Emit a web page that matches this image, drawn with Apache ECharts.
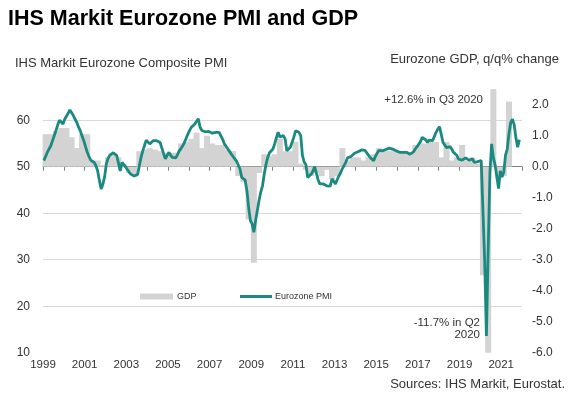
<!DOCTYPE html>
<html><head><meta charset="utf-8">
<script src="https://cdn.jsdelivr.net/npm/echarts@6/dist/echarts.min.js"></script>
<style>html,body{margin:0;padding:0;background:#fff}#c{width:573px;height:405px}</style>
</head><body><div id="c"></div>
<script>
// Eurozone Composite PMI, monthly (Jan..Dec)
const pmi1999 = [51.3, 52.2, 53.1, 53.8, 54.5, 55.6, 56.7, 57.8, 59.0, 60.0, 59.6, 59.2];
const pmi2000 = [60.2, 60.6, 61.5, 62.2, 61.8, 61.0, 60.2, 59.5, 58.5, 57.7, 56.6, 55.6];
const pmi2001 = [54.3, 53.1, 52.2, 51.4, 51.2, 50.9, 50.2, 49.1, 47.0, 45.2, 46.2, 47.8];
const pmi2002 = [50.6, 51.8, 52.5, 52.9, 53.0, 52.9, 52.4, 52.0, 49.1, 50.9, 50.5, 50.0];
const pmi2003 = [49.6, 48.9, 48.4, 48.1, 48.0, 48.1, 48.3, 50.2, 52.0, 53.4, 54.6, 55.7];
const pmi2004 = [55.3, 54.9, 55.2, 55.6, 55.4, 55.6, 55.6, 55.2, 54.0, 52.8, 51.7, 52.4];
const pmi2005 = [53.1, 52.5, 52.0, 51.7, 51.9, 52.6, 53.4, 53.9, 54.5, 55.2, 56.1, 57.0];
const pmi2006 = [57.8, 58.5, 58.9, 59.2, 59.8, 60.3, 58.5, 57.8, 57.4, 57.5, 57.6, 57.6];
const pmi2007 = [57.4, 57.2, 57.1, 57.4, 57.6, 57.4, 57.0, 55.9, 54.9, 54.4, 53.8, 53.4];
const pmi2008 = [52.7, 52.2, 51.7, 51.2, 50.9, 49.5, 47.7, 47.4, 47.1, 44.8, 41.2, 38.4];
const pmi2009 = [37.7, 35.9, 38.4, 40.6, 42.8, 44.6, 45.9, 48.5, 50.5, 52.0, 53.0, 53.4];
const pmi2010 = [53.8, 54.9, 56.3, 57.4, 56.4, 56.0, 56.7, 56.0, 53.4, 53.8, 54.2, 55.2];
const pmi2011 = [56.3, 57.7, 57.6, 57.4, 56.7, 52.4, 51.0, 50.4, 47.7, 47.9, 48.4, 49.0];
const pmi2012 = [50.0, 48.6, 47.2, 46.3, 46.1, 46.3, 46.2, 45.9, 45.5, 45.8, 47.4, 47.0];
const pmi2013 = [46.3, 47.2, 48.0, 48.7, 49.6, 50.3, 51.0, 51.9, 52.0, 52.2, 52.5, 52.9];
const pmi2014 = [53.0, 53.2, 53.4, 53.6, 53.8, 53.5, 53.1, 52.5, 52.0, 51.7, 51.3, 52.2];
const pmi2015 = [52.9, 53.5, 53.8, 53.4, 53.4, 53.7, 53.8, 54.0, 53.7, 53.8, 54.1, 53.4];
const pmi2016 = [53.4, 53.1, 53.0, 53.1, 53.2, 53.1, 52.9, 52.7, 52.4, 53.2, 53.8, 54.3];
const pmi2017 = [54.6, 55.4, 56.3, 56.6, 55.8, 55.2, 55.7, 55.9, 55.6, 56.0, 57.4, 58.1];
const pmi2018 = [58.6, 56.9, 55.2, 54.9, 54.1, 54.5, 54.3, 53.8, 53.1, 53.0, 52.4, 51.6];
const pmi2019 = [51.2, 51.4, 51.6, 51.9, 51.8, 51.4, 51.6, 51.7, 50.9, 50.8, 51.1, 51.0];
const pmi2020 = [51.3, 51.2, 29.7, 13.6, 31.9, 48.5, 54.9, 51.9, 50.4, 50.0, 45.3, 49.1];
const pmi2021 = [47.8, 48.8, 52.5, 53.8, 57.1, 59.5, 60.2, 59.0, 56.2, 54.2, 55.8];

// Eurozone GDP q/q % change, quarterly (Q1..Q4)
const gdp1999 = [1.05, 1.05, 1.15, 1.25];
const gdp2000 = [1.25, 0.95, 0.6, 1.05];
const gdp2001 = [1.05, 0.2, 0.2, 0.05];
const gdp2002 = [0.3, 0.4, 0.3, 0.1];
const gdp2003 = [-0.2, -0.3, 0.5, 0.55];
const gdp2004 = [0.6, 0.55, 0.5, 0.45];
const gdp2005 = [0.45, 0.45, 0.75, 0.8];
const gdp2006 = [0.9, 1.1, 0.6, 1.0];
const gdp2007 = [0.75, 0.7, 0.7, 0.55];
const gdp2008 = [0.5, -0.3, -0.5, -1.7];
const gdp2009 = [-3.1, -0.2, 0.4, 0.35];
const gdp2010 = [0.4, 0.9, 0.5, 0.5];
const gdp2011 = [0.8, 0.1, -0.1, -0.3];
const gdp2012 = [-0.2, -0.3, -0.1, -0.4];
const gdp2013 = [-0.3, 0.6, 0.2, 0.3];
const gdp2014 = [0.3, 0.2, 0.3, 0.4];
const gdp2015 = [0.6, 0.5, 0.5, 0.55];
const gdp2016 = [0.5, 0.45, 0.45, 0.7];
const gdp2017 = [0.75, 0.75, 0.8, 0.8];
const gdp2018 = [0.3, 0.8, 0.2, 0.3];
const gdp2019 = [0.7, 0.2, 0.3, 0.1];
const gdp2020 = [-3.5, -11.7, 12.6, -0.4];
const gdp2021 = [-0.3, 2.1];

// axis tick labels
const xTickLabels = [1999, 2001, 2003, 2005, 2007, 2009, 2011, 2013, 2015, 2017, 2019, 2021];
const leftTicks = [10, 20, 30, 40, 50, 60];
const rightTicks = [-6, -5, -4, -3, -2, -1, 0, 1, 2];

const pmiByYear = {1999:pmi1999,2000:pmi2000,2001:pmi2001,2002:pmi2002,2003:pmi2003,2004:pmi2004,2005:pmi2005,2006:pmi2006,2007:pmi2007,2008:pmi2008,2009:pmi2009,2010:pmi2010,2011:pmi2011,2012:pmi2012,2013:pmi2013,2014:pmi2014,2015:pmi2015,2016:pmi2016,2017:pmi2017,2018:pmi2018,2019:pmi2019,2020:pmi2020,2021:pmi2021};
const gdpByYear = {1999:gdp1999,2000:gdp2000,2001:gdp2001,2002:gdp2002,2003:gdp2003,2004:gdp2004,2005:gdp2005,2006:gdp2006,2007:gdp2007,2008:gdp2008,2009:gdp2009,2010:gdp2010,2011:gdp2011,2012:gdp2012,2013:gdp2013,2014:gdp2014,2015:gdp2015,2016:gdp2016,2017:gdp2017,2018:gdp2018,2019:gdp2019,2020:gdp2020,2021:gdp2021};

const pmiData = [];
Object.keys(pmiByYear).forEach(y => pmiByYear[y].forEach((v, i) => pmiData.push([+y + (i + 0.5) / 12, v])));
const GDP_TOP = 2.5, GDP_BOTTOM = -6;
const gdpData = [];
Object.keys(gdpByYear).forEach(y => gdpByYear[y].forEach((v, q) => gdpData.push([+y + (q * 3 + 1.5) / 12, Math.max(GDP_BOTTOM, Math.min(GDP_TOP, v))])));

const FONT = '"Liberation Sans", Arial, sans-serif';
const TXT = '#333';
const chart = echarts.init(document.getElementById('c'), null, {renderer: 'canvas'});
chart.setOption({
  animation: false,
  backgroundColor: '#fff',
  textStyle: {fontFamily: FONT},
  title: {
    text: 'IHS Markit Eurozone PMI and GDP', left: 8, top: 8, padding: 0,
    textStyle: {fontFamily: FONT, fontSize: 21.5, fontWeight: 'bold', color: '#000'}
  },
  grid: {left: 43, right: 51, top: 73.7, bottom: 52.3, containLabel: false},
  legend: [
    {data: ['GDP'], left: 140, top: 292, icon: 'rect', itemWidth: 33, itemHeight: 6, itemGap: 4, selectedMode: false, padding: 0,
     textStyle: {fontFamily: FONT, fontSize: 9, color: TXT, padding: [0, 0, 0, -1]}},
    {data: ['Eurozone PMI'], left: 240, top: 292, icon: 'rect', itemWidth: 32, itemHeight: 3, itemGap: 4, selectedMode: false, padding: 0,
     textStyle: {fontFamily: FONT, fontSize: 9, color: TXT, padding: [0, 0, 0, -2]}}
  ],
  xAxis: {
    type: 'value', min: 1999, max: 2022, interval: 1,
    axisLine: {show: true, lineStyle: {color: '#808080', width: 1}},
    axisTick: {show: true, length: 4, lineStyle: {color: '#808080'}},
    axisLabel: {fontFamily: FONT, fontSize: 11.5, color: TXT, margin: 6,
      formatter: v => xTickLabels.includes(Math.round(v)) ? String(Math.round(v)) : ''},
    splitLine: {show: false}
  },
  yAxis: [
    {type: 'value', min: 10, max: 70, interval: 10, position: 'left',
     axisLine: {show: false}, axisTick: {show: false},
     axisLabel: {fontFamily: FONT, fontSize: 12, color: TXT, margin: 13, showMaxLabel: false,
       formatter: v => leftTicks.includes(v) ? String(v) : ''},
     splitLine: {show: true, showMaxLine: false, showMinLine: false, lineStyle: {color: '#d9d9d9', width: 1}}},
    {type: 'value', min: -6, max: 3, interval: 1, position: 'right',
     axisLine: {show: false}, axisTick: {show: false},
     axisLabel: {fontFamily: FONT, fontSize: 12, color: TXT, margin: 10, showMaxLabel: false,
       formatter: v => rightTicks.includes(v) ? v.toFixed(1) : ''},
     splitLine: {show: false}}
  ],
  series: [
    {name: 'GDP', type: 'bar', yAxisIndex: 1, data: gdpData, barWidth: 6, barGap: '-100%',
     itemStyle: {color: '#d3d3d3'}, z: 1, clip: true},
    {name: 'Eurozone PMI', type: 'line', yAxisIndex: 0, data: pmiData, showSymbol: false, symbol: 'none',
     lineStyle: {color: '#1a8a80', width: 2.8}, itemStyle: {color: '#1a8a80'}, z: 3, clip: true}
  ],
  graphic: [
    {type: 'text', left: 15, top: 57, style: {text: 'IHS Markit Eurozone Composite PMI', font: '13px ' + FONT, fill: TXT}},
    {type: 'text', right: 14, top: 53, style: {text: 'Eurozone GDP, q/q% change', font: '13px ' + FONT, fill: TXT}},
    {type: 'text', right: 90, top: 94, style: {text: '+12.6% in Q3 2020', font: '11.5px ' + FONT, fill: TXT}},
    {type: 'text', right: 93, top: 317, style: {text: '-11.7% in Q2', font: '11.5px ' + FONT, fill: TXT}},
    {type: 'text', right: 93, top: 329, style: {text: '2020', font: '11.5px ' + FONT, fill: TXT}},
    {type: 'text', right: 8, top: 378, style: {text: 'Sources: IHS Markit, Eurostat.', font: '13px ' + FONT, fill: TXT}}
  ]
});
</script></body></html>
